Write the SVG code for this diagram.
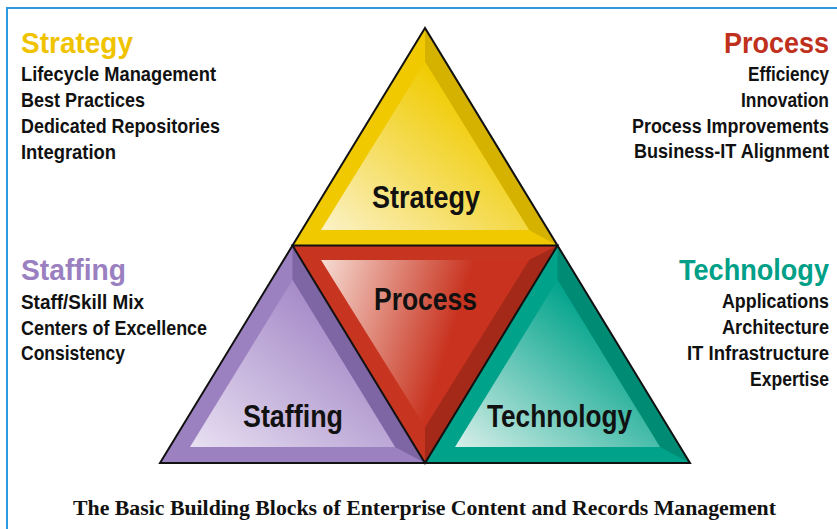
<svg xmlns="http://www.w3.org/2000/svg" width="837" height="529" viewBox="0 0 837 529">
<style>
.h{font-family:"Liberation Sans",Arial,sans-serif;font-weight:bold;font-size:29px}
.l{font-family:"Liberation Sans",Arial,sans-serif;font-weight:bold;font-size:21px;fill:#111}
.r{text-anchor:end}
.t{font-family:"Liberation Sans",Arial,sans-serif;font-weight:bold;font-size:31px;fill:#111}
.cap{font-family:"Liberation Serif","Times New Roman",serif;font-weight:bold;font-size:22px;fill:#111}
.edge{fill:none;stroke:#111;stroke-width:2;stroke-linejoin:miter}
</style>
<defs>
<linearGradient id="gy" x1="0" y1="1" x2="1" y2="0"><stop offset="0" stop-color="#FBF2C8"/><stop offset="0.75" stop-color="#F0CB00"/></linearGradient>
<linearGradient id="gr" x1="0" y1="0" x2="1" y2="0.25"><stop offset="0" stop-color="#F6DCD3"/><stop offset="0.7" stop-color="#C8321E"/></linearGradient>
<linearGradient id="gp" x1="0" y1="1" x2="1" y2="0"><stop offset="0" stop-color="#E8E0F2"/><stop offset="0.75" stop-color="#A68BC8"/></linearGradient>
<linearGradient id="gt" x1="0" y1="1" x2="1" y2="0"><stop offset="0" stop-color="#D8EFE9"/><stop offset="0.75" stop-color="#00A38B"/></linearGradient>
</defs>
<rect width="837" height="529" fill="#fff"/>
<g id="frame" stroke="#2E9BDF" stroke-width="2" fill="none">
<path d="M7 529 V8 H837"/>
</g>

<g id="node-strategy">
<polygon points="425,28 292.5,245.5 557.5,245.5" fill="#F0C900"/>
<polygon points="425,28 557.5,245.5 529,230 425,62" fill="#D6B200"/>
<polygon points="425,62 321,230 529,230" fill="url(#gy)"/>
<text class="t" x="372" y="208" textLength="108" lengthAdjust="spacingAndGlyphs">Strategy</text>
</g>

<g id="node-process">
<polygon points="292.5,245.5 557.5,245.5 425,463" fill="#C7341F"/>
<polygon points="557.5,245.5 425,463 425,427 529,260" fill="#A52919"/>
<polygon points="321,260 529,260 425,427" fill="url(#gr)"/>
<text class="t" x="374" y="310" textLength="103" lengthAdjust="spacingAndGlyphs">Process</text>
</g>

<g id="node-staffing">
<polygon points="292.5,245.5 160,463 425,463" fill="#9C81C0"/>
<polygon points="292.5,245.5 425,463 395,447 292.5,280" fill="#7E65A4"/>
<polygon points="292.5,280 190,447 395,447" fill="url(#gp)"/>
<text class="t" x="243" y="427" textLength="100" lengthAdjust="spacingAndGlyphs">Staffing</text>
</g>

<g id="node-technology">
<polygon points="557.5,245.5 425,463 690,463" fill="#00A28A"/>
<polygon points="557.5,245.5 690,463 660,447 557.5,280" fill="#008B75"/>
<polygon points="557.5,280 455,447 660,447" fill="url(#gt)"/>
<text class="t" x="487" y="427" textLength="145" lengthAdjust="spacingAndGlyphs">Technology</text>
</g>

<g id="outlines">
<polygon class="edge" points="425,28 160,463 690,463"/>
<polygon class="edge" points="292.5,245.5 557.5,245.5 425,463"/>
</g>

<g id="text-strategy">
<text class="h" x="21" y="53" fill="#F0C300" textLength="112" lengthAdjust="spacingAndGlyphs">Strategy</text>
<text class="l" x="21" y="81" textLength="195" lengthAdjust="spacingAndGlyphs">Lifecycle Management</text>
<text class="l" x="21" y="107" textLength="124" lengthAdjust="spacingAndGlyphs">Best Practices</text>
<text class="l" x="21" y="133" textLength="199" lengthAdjust="spacingAndGlyphs">Dedicated Repositories</text>
<text class="l" x="21" y="158.5" textLength="95" lengthAdjust="spacingAndGlyphs">Integration</text>
</g>

<g id="text-process" transform="translate(829 0) scale(0.88 1)">
<text class="h r" x="0" y="53" fill="#C0311D" textLength="119.3" lengthAdjust="spacingAndGlyphs">Process</text>
<text class="l r" x="0" y="81" textLength="92" lengthAdjust="spacingAndGlyphs">Efficiency</text>
<text class="l r" x="0" y="107" textLength="100" lengthAdjust="spacingAndGlyphs">Innovation</text>
<text class="l r" x="0" y="133" textLength="223.9" lengthAdjust="spacingAndGlyphs">Process Improvements</text>
<text class="l r" x="0" y="158.5" textLength="221.6" lengthAdjust="spacingAndGlyphs">Business-IT Alignment</text>
</g>

<g id="text-staffing">
<text class="h" x="21" y="280" fill="#9A80C0" textLength="105" lengthAdjust="spacingAndGlyphs">Staffing</text>
<text class="l" x="21" y="308.5" textLength="123" lengthAdjust="spacingAndGlyphs">Staff/Skill Mix</text>
<text class="l" x="21" y="334.5" textLength="186" lengthAdjust="spacingAndGlyphs">Centers of Excellence</text>
<text class="l" x="21" y="360" textLength="104" lengthAdjust="spacingAndGlyphs">Consistency</text>
</g>

<g id="text-technology" transform="translate(829 0) scale(0.88 1)">
<text class="h r" x="0" y="280" fill="#00A088" textLength="170.5" lengthAdjust="spacingAndGlyphs">Technology</text>
<text class="l r" x="0" y="308.5" textLength="121.6" lengthAdjust="spacingAndGlyphs">Applications</text>
<text class="l r" x="0" y="334.5" textLength="121.6" lengthAdjust="spacingAndGlyphs">Architecture</text>
<text class="l r" x="0" y="360" textLength="161.4" lengthAdjust="spacingAndGlyphs">IT Infrastructure</text>
<text class="l r" x="0" y="386" textLength="89.8" lengthAdjust="spacingAndGlyphs">Expertise</text>
</g>

<text class="cap" x="73" y="515" textLength="703" lengthAdjust="spacingAndGlyphs">The Basic Building Blocks of Enterprise Content and Records Management</text>
</svg>
